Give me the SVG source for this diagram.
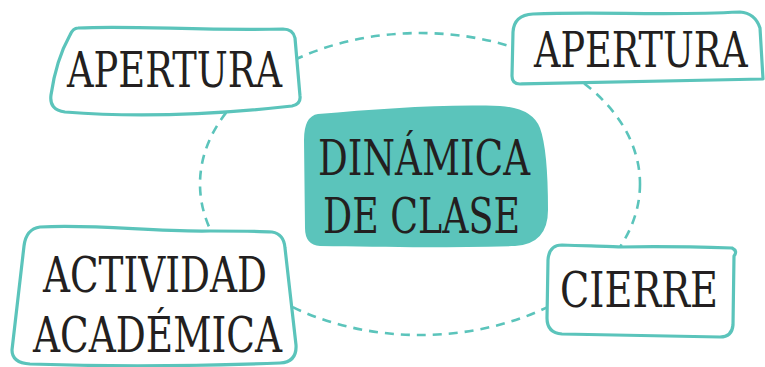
<svg xmlns="http://www.w3.org/2000/svg" width="765" height="367" viewBox="0 0 765 367">
<style>
.box{fill:#ffffff;stroke:#5bc4bb;stroke-width:3.2;stroke-linejoin:round}
.lbl{font-family:'DejaVu Serif','Liberation Serif',serif;font-size:48px;fill:#231f20}
.conn{fill:none;stroke:#5bc4bb;stroke-width:2.6;stroke-dasharray:9 7}
</style>
<rect width="765" height="367" fill="#ffffff"/>
<g id="connectors">
<ellipse class="conn" cx="420" cy="184" rx="220" ry="151"/>
</g>
<g id="center">
<path d="M 318,114 C 380,109 440,104 500,106 Q 532,108 540,128 Q 548,150 548,210 Q 548,244 515,246 C 440,248 380,247 320,246 Q 305,245 305,228 L 304,140 Q 304,116 318,114 Z" fill="#5bc4bb"/>
<text class="lbl" x="318" y="175" textLength="212" lengthAdjust="spacingAndGlyphs">DINÁMICA</text>
<text class="lbl" x="323" y="233" textLength="197" lengthAdjust="spacingAndGlyphs">DE CLASE</text>
</g>
<g id="apertura-1">
<path class="box" d="M 78,28 C 130,25 200,31 283,29 Q 293,29 295,38 L 300,96 Q 301,104 292,106 C 220,114 140,118 65,112 Q 49,110 51,95 Q 56,60 70,35 Q 73,28 78,28 Z"/>
<text class="lbl" x="67" y="87" textLength="215" lengthAdjust="spacingAndGlyphs">APERTURA</text>
</g>
<g id="apertura-2">
<path class="box" d="M 533,14 C 600,11 660,16 740,12 Q 755,13 760,28 L 763,79 C 680,81 600,82 520,84 Q 512,84 512,76 L 513,32 Q 514,15 533,14 Z"/>
<text class="lbl" transform="translate(534,67) scale(0.75,1)" x="0" y="0" textLength="285" lengthAdjust="spacingAndGlyphs">APERTURA</text>
</g>
<g id="actividad">
<path class="box" d="M 40,227 C 100,224 150,232 210,231 C 240,231 260,231 272,232 Q 284,234 285,248 L 296,345 Q 297,362 280,363 C 200,366 120,367 30,364 Q 12,363 12,350 L 24,246 Q 26,229 40,227 Z"/>
<text class="lbl" x="43" y="292" textLength="224" lengthAdjust="spacingAndGlyphs">ACTIVIDAD</text>
<text class="lbl" x="33" y="352" textLength="249" lengthAdjust="spacingAndGlyphs">ACADÉMICA</text>
</g>
<g id="cierre">
<path class="box" d="M 562,245 C 590,246 610,246 620,247 C 660,246 700,247 732,248 Q 738,251 734,256 L 733,325 Q 732,337 720,337 L 562,334 Q 547,333 547,318 L 548,260 Q 549,245 562,245 Z"/>
<text class="lbl" x="560" y="307" textLength="158" lengthAdjust="spacingAndGlyphs">CIERRE</text>
</g>
</svg>
